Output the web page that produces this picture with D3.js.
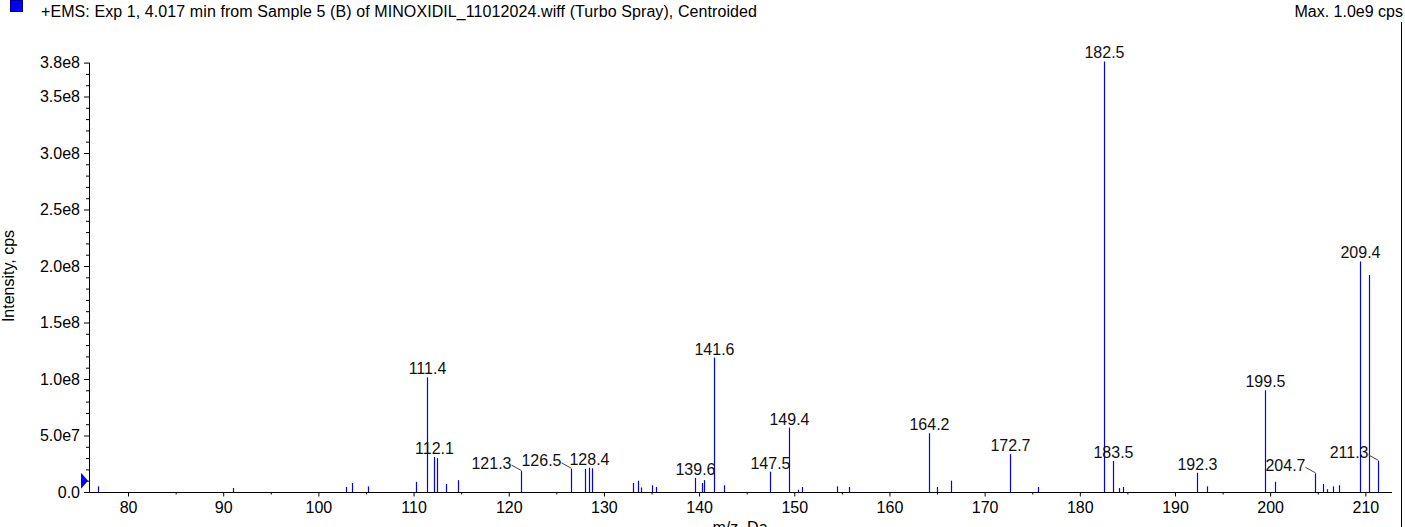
<!DOCTYPE html>
<html>
<head>
<meta charset="utf-8">
<script src="https://cdn.jsdelivr.net/npm/d3@7"></script>
<style>
  html, body { margin: 0; padding: 0; background: #fff; }
  svg { display: block; }
  text { font-family: "Liberation Sans", Arial, sans-serif; }
</style>
</head>
<body>
<svg id="chart" width="1405" height="527"></svg>
<script>
// ---------------- data ----------------
const headerTitle = "+EMS: Exp 1, 4.017 min from Sample 5 (B) of MINOXIDIL_11012024.wiff (Turbo Spray), Centroided";
const headerMax = "Max. 1.0e9 cps";
const xTitle = "m/z, Da";
const yTitle = "Intensity, cps";

const peakMz = [76.8, 91.0, 102.9, 103.5, 105.2, 110.3, 111.4, 112.1, 112.5, 113.4, 114.7,
  121.3, 126.5, 128.0, 128.4, 128.7, 133.1, 133.6, 133.9, 135.0, 135.5,
  139.6, 140.3, 140.5, 141.6, 142.6, 147.5, 149.4, 150.4, 150.8, 154.5, 155.8,
  164.2, 165.0, 166.5, 172.7, 175.6, 182.5, 183.5, 184.1, 184.5, 192.3, 193.4,
  199.5, 200.5, 204.7, 205.5, 206.0, 206.6, 207.2, 209.4, 210.4, 211.3];
const peakIntensity = [5e6, 3.5e6, 4.5e6, 8e6, 5e6, 9e6, 1.015e8, 3.1e7, 3.0e7, 7e6, 1.05e7,
  1.85e7, 2.05e7, 2.05e7, 2.15e7, 2.1e7, 8e6, 1.0e7, 4e6, 6e6, 4.5e6,
  1.25e7, 8e6, 1.05e7, 1.19e8, 6e6, 1.8e7, 5.7e7, 2e6, 4.5e6, 5e6, 4.5e6,
  5.2e7, 4.5e6, 1.0e7, 3.35e7, 4.5e6, 3.81e8, 2.75e7, 3.5e6, 4.5e6, 1.7e7, 5e6,
  9.0e7, 9e6, 1.65e7, 7e6, 2.5e6, 5e6, 6e6, 2.04e8, 1.92e8, 2.75e7];

const peakLabels = ["111.4", "112.1", "121.3", "126.5", "128.4", "139.6", "141.6", "147.5",
  "149.4", "164.2", "172.7", "182.5", "183.5", "192.3", "199.5", "204.7", "209.4", "211.3"];
const leaderLabels = ["121.3", "126.5", "204.7", "211.3"];

const xTickValues = [80, 90, 100, 110, 120, 130, 140, 150, 160, 170, 180, 190, 200, 210];
const xTickLabels = ["80", "90", "100", "110", "120", "130", "140", "150", "160", "170", "180", "190", "200", "210"];
const yTickValues = [0, 5e7, 1e8, 1.5e8, 2e8, 2.5e8, 3e8, 3.5e8, 3.8e8];
const yTickLabels = ["0.0", "5.0e7", "1.0e8", "1.5e8", "2.0e8", "2.5e8", "3.0e8", "3.5e8", "3.8e8"];
const xDomain = [75.9, 212.8];
const yDomain = [0, 3.8e8];
const thresholdValue = 1e7;

// ---------------- drawing ----------------
const svg = d3.select("#chart");
const FONT = 16;
const x = d3.scaleLinear().domain(xDomain).range([89, 1392]);
const y = d3.scaleLinear().domain(yDomain).range([492, 62.6]);

// header
svg.append("rect").attr("x", 10.5).attr("y", 0.5).attr("width", 12).attr("height", 11)
  .attr("fill", "#0000ff").attr("stroke", "#00008b");
svg.append("text").attr("x", 41).attr("y", 16.5).attr("font-size", FONT).attr("fill", "#000")
  .attr("textLength", 716).attr("lengthAdjust", "spacing")
  .text(headerTitle);
svg.append("text").attr("x", 1403).attr("y", 16.5).attr("font-size", FONT).attr("fill", "#000")
  .attr("text-anchor", "end").text(headerMax);

// right frame line
svg.append("line").attr("x1", 1401.5).attr("x2", 1401.5).attr("y1", 22).attr("y2", 527)
  .attr("stroke", "#000").attr("stroke-width", 1);

// minor ticks
const xMinor = d3.range(80, 213, 5).filter(v => !xTickValues.includes(v));
const gxMinor = svg.append("g").attr("transform", "translate(0,492)")
  .call(d3.axisBottom(x).tickValues(xMinor).tickSize(2.5).tickFormat(""));
gxMinor.select(".domain").remove();
const yMinor = d3.range(0, 3.8e8 + 1, 1e7).filter(v => !yTickValues.some(t => Math.abs(t - v) < 1));
const gyMinor = svg.append("g").attr("transform", "translate(89,0)")
  .call(d3.axisLeft(y).tickValues(yMinor).tickSize(3).tickFormat(""));
gyMinor.select(".domain").remove();

// major axes
const gx = svg.append("g").attr("transform", "translate(0,492)")
  .call(d3.axisBottom(x).tickValues(xTickValues).tickSize(4.5).tickPadding(5)
    .tickFormat((d, i) => xTickLabels[i]));
gx.select(".domain").attr("d", `M${x.range()[0]},0.5H${x.range()[1]}`);
gx.selectAll("text").attr("font-size", FONT).attr("font-family", "Liberation Sans, Arial, sans-serif").attr("fill", "#000");

const gy = svg.append("g").attr("transform", "translate(89,0)")
  .call(d3.axisLeft(y).tickValues(yTickValues).tickSize(5).tickPadding(4)
    .tickFormat((d, i) => yTickLabels[i]));
gy.select(".domain").attr("d", `M0.5,${y.range()[1]}V${y.range()[0]}`);
gy.selectAll("text").attr("font-size", FONT).attr("font-family", "Liberation Sans, Arial, sans-serif").attr("fill", "#000");

// axis titles
svg.append("text").attr("x", 740).attr("y", 532.5).attr("text-anchor", "middle")
  .attr("font-size", FONT).attr("fill", "#000").text(xTitle);
svg.append("text").attr("transform", "translate(13.5,276) rotate(-90)").attr("text-anchor", "middle")
  .attr("font-size", FONT).attr("fill", "#000").text(yTitle);

// threshold marker
const ty = y(thresholdValue);
svg.append("path").attr("d", `M81,${ty - 8}L88,${ty}L81,${ty + 8}Z`).attr("fill", "#0000ff");

// peaks
const peaks = peakMz.map((m, i) => ({ mz: m, v: peakIntensity[i] }));
const px = d => Math.round(x(d.mz)) + 0.5;
svg.append("g").selectAll("line").data(peaks).join("line")
  .attr("x1", px).attr("x2", px)
  .attr("y1", y(0)).attr("y2", d => y(d.v))
  .attr("stroke", "#0000ff").attr("stroke-width", 1.2);

// labels
const labelled = peakLabels.map(l => {
  const p = peaks.find(q => Math.abs(q.mz - parseFloat(l)) < 1e-6);
  return { label: l, mz: p.mz, v: p.v, leader: leaderLabels.includes(l) };
});
const gl = svg.append("g");
labelled.forEach(d => {
  const cx = px(d), top = y(d.v);
  if (d.leader) {
    gl.append("line").attr("x1", cx - 10).attr("y1", top - 6).attr("x2", cx).attr("y2", top - 0.5)
      .attr("stroke", "#444").attr("stroke-width", 1);
    gl.append("text").attr("x", cx - 10).attr("y", top - 2.5).attr("text-anchor", "end")
      .attr("font-size", FONT).attr("fill", "#111").text(d.label);
  } else {
    gl.append("text").attr("x", cx).attr("y", top - 3).attr("text-anchor", "middle")
      .attr("font-size", FONT).attr("fill", "#111").text(d.label);
  }
});
</script>
</body>
</html>
